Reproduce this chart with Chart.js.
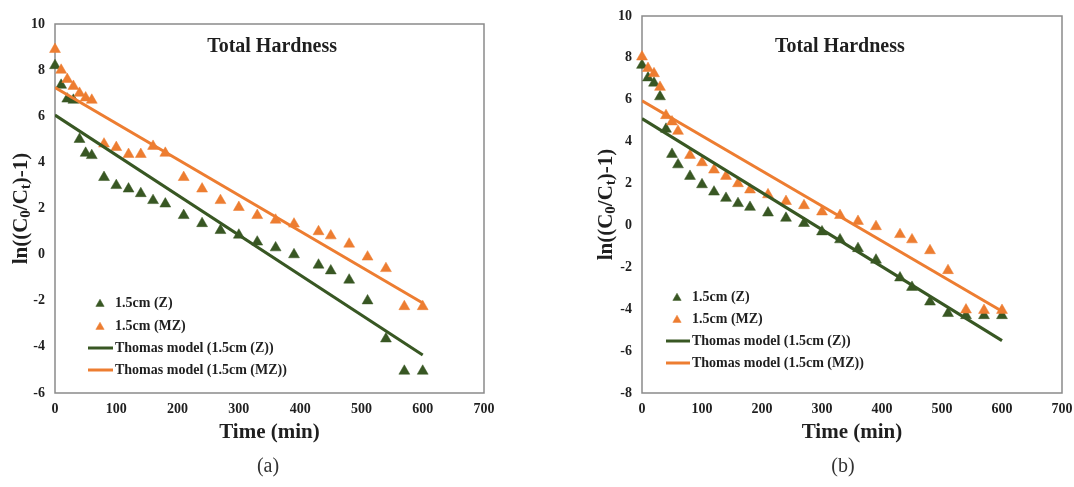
<!DOCTYPE html>
<html>
<head>
<meta charset="utf-8">
<script src="https://cdn.jsdelivr.net/npm/chart.js@4.4.1/dist/chart.umd.min.js"></script>
<style>
  html, body { margin: 0; padding: 0; background: #ffffff; }
  #wrap { position: relative; width: 1074px; height: 487px; overflow: hidden; }
  #wrap canvas { position: absolute; top: 0; }
</style>
</head>
<body>
<div id="wrap">
  <canvas id="panelA" width="537" height="487" style="left:0;width:537px;height:487px"></canvas>
  <canvas id="panelB" width="537" height="487" style="left:537px;width:537px;height:487px"></canvas>
</div>
<script>
// Sampling times (min), shared by both columns
const TIME_MIN = [0, 10, 20, 30, 40, 50, 60, 80, 100, 120, 140, 160, 180, 210, 240,
                  270, 300, 330, 360, 390, 430, 450, 480, 510, 540, 570, 600];

// Panel (a): ln((C0/Ct)-1) observations
const A_Z  = [8.2, 7.35, 6.75, 6.7, 5.0, 4.4, 4.3, 3.35, 3.0, 2.85, 2.65, 2.35, 2.2, 1.7, 1.35,
              1.05, 0.85, 0.55, 0.3, 0.0, -0.45, -0.7, -1.1, -2.0, -3.65, -5.05, -5.05];
const A_MZ = [8.9, 8.0, 7.6, 7.3, 7.0, 6.8, 6.7, 4.8, 4.65, 4.35, 4.35, 4.7, 4.4, 3.35, 2.85,
              2.35, 2.05, 1.7, 1.5, 1.33, 1.0, 0.82, 0.46, -0.1, -0.6, -2.25, -2.25];
// Panel (a): Thomas model lines (end points)
const A_FIT_T  = [0, 600];
const A_FIT_Z  = [6.05, -4.35];
const A_FIT_MZ = [7.25, -2.1];

// Panel (b): ln((C0/Ct)-1) observations
const B_Z  = [7.65, 7.05, 6.8, 6.15, 4.6, 3.4, 2.9, 2.35, 1.95, 1.6, 1.3, 1.05, 0.87, 0.6, 0.35,
              0.1, -0.3, -0.68, -1.1, -1.65, -2.5, -2.95, -3.65, -4.2, -4.3, -4.3, -4.3];
const B_MZ = [8.05, 7.5, 7.25, 6.6, 5.25, 4.95, 4.5, 3.35, 3.0, 2.65, 2.35, 2.0, 1.7, 1.47, 1.15,
              0.95, 0.65, 0.48, 0.2, -0.05, -0.43, -0.68, -1.2, -2.15, -4.03, -4.05, -4.05];
// Panel (b): Thomas model lines (end points)
const B_FIT_T  = [0, 600];
const B_FIT_Z  = [5.1, -5.5];
const B_FIT_MZ = [5.95, -4.1];

// Axis tick labels
const X_TICKS   = [0, 100, 200, 300, 400, 500, 600, 700];
const A_Y_TICKS = [-6, -4, -2, 0, 2, 4, 6, 8, 10];
const B_Y_TICKS = [-8, -6, -4, -2, 0, 2, 4, 6, 8, 10];

// Legend / series names
const SERIES_NAMES = ['1.5cm (Z)', '1.5cm (MZ)', 'Thomas model (1.5cm (Z))', 'Thomas model (1.5cm (MZ))'];
const HEADING = 'Total Hardness';
const X_TITLE = 'Time (min)';

const GREEN  = '#385723';
const ORANGE = '#ED7D31';
const INK    = '#1f1f1f';
const SERIF  = '"Liberation Serif", "Times New Roman", Times, serif';

function pairs(xs, ys) { return xs.map((x, i) => ({ x: x, y: ys[i] })); }

// Rotated y-axis title with real subscripts: ln((C0/Ct)-1)
function drawYTitle(ctx, cx, cy, size) {
  const parts = [['ln((C', false], ['0', true], ['/C', false], ['t', true], [')-1)', false]];
  const subSize = Math.round(size * 0.72);
  const fontFor = sub => `bold ${sub ? subSize : size}px ${SERIF}`;
  let total = 0;
  parts.forEach(([t, sub]) => { ctx.font = fontFor(sub); total += ctx.measureText(t).width; });
  ctx.save();
  ctx.translate(cx, cy);
  ctx.rotate(-Math.PI / 2);
  ctx.textAlign = 'left';
  ctx.textBaseline = 'middle';
  let x = -total / 2;
  parts.forEach(([t, sub]) => {
    ctx.font = fontFor(sub);
    ctx.fillText(t, x, sub ? size * 0.18 : 0);
    x += ctx.measureText(t).width;
  });
  ctx.restore();
}

// Frame, in-plot heading, y title, panel letter and in-plot legend
const panelDecor = {
  id: 'panelDecor',
  beforeDatasetsDraw(chart, args, o) {
    const { ctx, chartArea: a } = chart;
    ctx.save();
    ctx.strokeStyle = o.frameColor;
    ctx.lineWidth = o.frameWidth;
    ctx.strokeRect(a.left, a.top, a.right - a.left, a.bottom - a.top);
    ctx.restore();
  },
  afterDraw(chart, args, o) {
    const { ctx, chartArea: a } = chart;
    ctx.save();
    ctx.fillStyle = INK;
    ctx.textAlign = 'center';
    ctx.textBaseline = 'middle';
    ctx.font = `bold 20px ${SERIF}`;
    ctx.fillText(HEADING, a.left + (a.right - a.left) * o.headingFx, a.top + o.headingDy);
    ctx.font = `20px ${SERIF}`;
    ctx.fillStyle = '#333333';
    ctx.fillText(o.panelLabel, o.panelX, o.panelY);
    ctx.fillStyle = INK;
    drawYTitle(ctx, o.yTitleX, (a.top + a.bottom) / 2, 21);

    // legend rows
    const L = o.legend;
    chart.data.datasets.forEach((ds, i) => {
      const y = a.bottom + L.rows[i];
      if (ds.showLine) {
        ctx.strokeStyle = ds.borderColor;
        ctx.lineWidth = ds.borderWidth;
        ctx.beginPath();
        ctx.moveTo(a.left + L.lineFrom, y);
        ctx.lineTo(a.left + L.lineTo, y);
        ctx.stroke();
      } else {
        ctx.fillStyle = ds.pointBackgroundColor;
        ctx.strokeStyle = ds.pointBorderColor;
        Chart.helpers.drawPoint(ctx, { pointStyle: 'triangle', radius: L.markerR, borderWidth: 0.5, rotation: 0 },
                                a.left + L.markerX, y + 1);
      }
      ctx.fillStyle = INK;
      ctx.font = `bold 14px ${SERIF}`;
      ctx.textAlign = 'left';
      ctx.textBaseline = 'middle';
      ctx.fillText(ds.label, a.left + L.textX, y);
    });
    ctx.restore();
  }
};

function markerSet(label, data, color, order) {
  return {
    label, data, order,
    showLine: false,
    clip: false,
    pointStyle: 'triangle',
    pointRadius: 6.3,
    pointHoverRadius: 6.3,
    pointBackgroundColor: color,
    pointBorderColor: color,
    pointBorderWidth: 0.5,
    backgroundColor: color,
    borderColor: color
  };
}

function fitSet(label, data, color, order) {
  return {
    label, data, order,
    showLine: true,
    pointRadius: 0,
    pointHoverRadius: 0,
    borderColor: color,
    backgroundColor: color,
    borderWidth: 3,
    fill: false
  };
}

function buildPanel(canvasId, p) {
  const yTicks = p.yTicks;
  return new Chart(document.getElementById(canvasId), {
    type: 'scatter',
    data: {
      datasets: [
        markerSet(SERIES_NAMES[0], pairs(TIME_MIN, p.z), GREEN, 4),
        markerSet(SERIES_NAMES[1], pairs(TIME_MIN, p.mz), ORANGE, 3),
        fitSet(SERIES_NAMES[2], pairs(p.fitT, p.fitZ), GREEN, 2),
        fitSet(SERIES_NAMES[3], pairs(p.fitT, p.fitMZ), ORANGE, 1)
      ]
    },
    options: {
      responsive: false,
      animation: false,
      devicePixelRatio: 1,
      layout: { padding: { left: 0, right: p.padRight, top: p.padTop, bottom: 0 } },
      plugins: {
        legend: { display: false },
        tooltip: { enabled: false },
        panelDecor: p.decor
      },
      scales: {
        x: {
          type: 'linear',
          min: X_TICKS[0],
          max: X_TICKS[X_TICKS.length - 1],
          afterFit: s => { s.height = p.xAxisH; s.paddingLeft = 0; s.paddingRight = 0; },
          grid: { display: false, drawTicks: false },
          border: { display: false },
          ticks: {
            stepSize: X_TICKS[1] - X_TICKS[0],
            autoSkip: false,
            maxRotation: 0,
            padding: 8,
            color: INK,
            font: { family: SERIF, size: 14, weight: 'bold' }
          },
          title: {
            display: true,
            text: X_TITLE,
            color: INK,
            font: { family: SERIF, size: 21, weight: 'bold' },
            padding: { top: 0, bottom: 42 }
          }
        },
        y: {
          type: 'linear',
          min: yTicks[0],
          max: yTicks[yTicks.length - 1],
          afterFit: s => { s.width = p.yAxisW; s.paddingTop = 0; s.paddingBottom = 0; },
          grid: { display: false, drawTicks: false },
          border: { display: false },
          ticks: {
            stepSize: yTicks[1] - yTicks[0],
            autoSkip: false,
            padding: 10,
            color: INK,
            font: { family: SERIF, size: 14, weight: 'bold' }
          }
        }
      }
    },
    plugins: [panelDecor]
  });
}

buildPanel('panelA', {
  z: A_Z, mz: A_MZ, fitT: A_FIT_T, fitZ: A_FIT_Z, fitMZ: A_FIT_MZ,
  yTicks: A_Y_TICKS,
  yAxisW: 55, xAxisH: 94, padTop: 24, padRight: 53,
  decor: {
    frameColor: '#8a8a8a', frameWidth: 1.5,
    headingFx: 0.506, headingDy: 23,
    panelLabel: '(a)', panelX: 268, panelY: 467,
    yTitleX: 22,
    legend: { markerX: 45, markerR: 4.8, lineFrom: 33, lineTo: 58, textX: 60, rows: [-90, -67, -45, -23] }
  }
});

buildPanel('panelB', {
  z: B_Z, mz: B_MZ, fitT: B_FIT_T, fitZ: B_FIT_Z, fitMZ: B_FIT_MZ,
  yTicks: B_Y_TICKS,
  yAxisW: 105, xAxisH: 94, padTop: 16, padRight: 12,
  decor: {
    frameColor: '#8a8a8a', frameWidth: 1.5,
    headingFx: 0.471, headingDy: 31,
    panelLabel: '(b)', panelX: 306, panelY: 467,
    yTitleX: 70,
    legend: { markerX: 35, markerR: 4.8, lineFrom: 24, lineTo: 48, textX: 50, rows: [-96, -74, -52, -30] }
  }
});
</script>
</body>
</html>
